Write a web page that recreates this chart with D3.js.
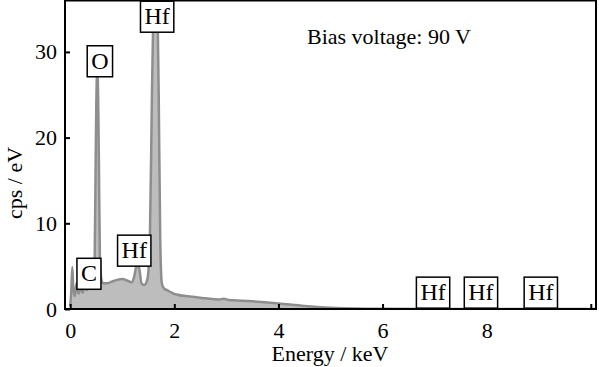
<!DOCTYPE html>
<html>
<head>
<meta charset="utf-8">
<script src="https://cdn.jsdelivr.net/npm/d3@7"></script>
<style>
  html, body { margin: 0; padding: 0; background: #fff; }
  svg { display: block; }
  text { font-family: "Liberation Serif", Tinos, "Times New Roman", Times, "DejaVu Serif", serif; fill: #000; }
</style>
</head>
<body>
<div id="chart"></div>
<script>
// ── Data: EDX spectrum ────────────────────────────────────────
const energy = [0.00, 0.02, 0.04, 0.06, 0.09, 0.12, 0.16, 0.20, 0.24, 0.28,
  0.32, 0.36, 0.40, 0.44, 0.47, 0.49, 0.515, 0.525, 0.55, 0.57,
  0.60, 0.63, 0.70, 0.80, 0.90, 1.00, 1.10, 1.18, 1.23, 1.27,
  1.30, 1.33, 1.37, 1.42, 1.48, 1.53, 1.57, 1.62, 1.66, 1.70,
  1.73, 1.76, 1.80, 1.86, 1.95, 2.00, 2.30, 2.60, 2.85, 2.95,
  3.05, 3.20, 3.50, 4.00, 4.50, 5.00, 5.50, 6.00, 7.00, 8.00,
  9.00, 10.1];
const cps = [0.3, 2.0, 4.9, 2.4, 1.5, 3.0, 1.8, 2.6, 1.9, 2.8,
  2.2, 2.6, 2.4, 3.2, 6.0, 18.0, 27.3, 27.3, 18.0, 6.0,
  3.4, 3.0, 3.0, 3.2, 3.4, 3.5, 3.3, 3.1, 3.8, 5.0,
  5.2, 4.6, 3.0, 2.8, 3.4, 8.0, 25.0, 38.0, 38.0, 25.0,
  8.0, 3.0, 2.4, 2.2, 1.9, 1.75, 1.45, 1.25, 1.1, 1.2,
  1.05, 1.0, 0.9, 0.65, 0.35, 0.15, 0.05, 0.02, 0.0, 0.0,
  0.0, 0.0];

// Element label boxes: centre energy (keV) and box bottom (cps/eV)
const peakLabels = ['Hf', 'O', 'C', 'Hf', 'Hf', 'Hf', 'Hf'];
const labelEnergy = [1.67, 0.57, 0.36, 1.23, 6.97, 7.89, 9.04];
const labelCps = [32.3, 27.1, 2.3, 5.0, 0.1, 0.1, 0.1];

const xTicks = [0, 2, 4, 6, 8, 10];
const yTicks = [0, 10, 20, 30];
const note = 'Bias voltage: 90 V';

// ── Layout ────────────────────────────────────────────────────
const width = 599, height = 367;
const serif = '"Liberation Serif", Tinos, "Times New Roman", Times, "DejaVu Serif", serif';
const x = d3.scaleLinear().domain([-0.1, 10.1]).range([65, 596]);
const y = d3.scaleLinear().domain([0, 36]).range([309, 0.5]);

const svg = d3.select('#chart').append('svg')
  .attr('width', width)
  .attr('height', height)
  .attr('font-family', serif);

svg.append('defs').append('clipPath').attr('id', 'plot-clip')
  .append('rect')
  .attr('x', x.range()[0]).attr('y', y.range()[1])
  .attr('width', x.range()[1] - x.range()[0])
  .attr('height', y.range()[0] - y.range()[1]);

const series = energy.map((e, i) => ({ e, v: cps[i] }));

// ── Spectrum ──────────────────────────────────────────────────
const plot = svg.append('g').attr('clip-path', 'url(#plot-clip)');

plot.append('path')
  .datum(series)
  .attr('fill', '#bdbdbd')
  .attr('d', d3.area().x(d => x(d.e)).y0(y(0)).y1(d => y(d.v)).curve(d3.curveMonotoneX));

plot.append('path')
  .datum(series)
  .attr('fill', 'none')
  .attr('stroke', '#8e8e8e')
  .attr('stroke-width', 2.5)
  .attr('d', d3.line().x(d => x(d.e)).y(d => y(d.v)).curve(d3.curveMonotoneX));

// ── Axes ──────────────────────────────────────────────────────
const fontSize = 22;

const xAxis = svg.append('g')
  .attr('transform', `translate(0,${y(0)})`)
  .call(d3.axisBottom(x).tickValues(xTicks).tickSize(-5).tickPadding(13)
    .tickFormat(d => d === 10 ? '' : d));

const yAxis = svg.append('g')
  .attr('transform', `translate(${x.range()[0]},0)`)
  .call(d3.axisLeft(y).tickValues(yTicks).tickSize(-5).tickPadding(8));

[xAxis, yAxis].forEach(ax => {
  ax.attr('font-family', serif).attr('font-size', fontSize);
  ax.select('.domain').remove();
  ax.selectAll('.tick line').attr('stroke', '#000').attr('stroke-width', 2);
  ax.selectAll('.tick text').attr('fill', '#000');
});

// Frame
svg.append('rect')
  .attr('x', x.range()[0]).attr('y', y.range()[1])
  .attr('width', x.range()[1] - x.range()[0])
  .attr('height', y.range()[0] - y.range()[1])
  .attr('fill', 'none')
  .attr('stroke', '#000')
  .attr('stroke-width', 2);

// Axis titles
svg.append('text')
  .attr('x', 330).attr('y', 361)
  .attr('text-anchor', 'middle')
  .attr('font-size', fontSize)
  .text('Energy / keV');

svg.append('text')
  .attr('transform', 'translate(22,183) rotate(-90)')
  .attr('text-anchor', 'middle')
  .attr('font-size', fontSize)
  .text('cps / eV');

// Note
svg.append('text')
  .attr('x', 307).attr('y', 44)
  .attr('font-size', fontSize)
  .text(note);

// ── Peak label boxes ──────────────────────────────────────────
const boxH = 31, padX = 4;
peakLabels.forEach((label, i) => {
  const g = svg.append('g');
  const t = g.append('text')
    .attr('x', x(labelEnergy[i]))
    .attr('y', y(labelCps[i]) - 8)
    .attr('text-anchor', 'middle')
    .attr('font-size', 24)
    .text(label);
  const w = t.node().getComputedTextLength() + padX * 2;
  g.insert('rect', 'text')
    .attr('x', x(labelEnergy[i]) - w / 2)
    .attr('y', y(labelCps[i]) - boxH)
    .attr('width', w)
    .attr('height', boxH)
    .attr('fill', '#fff')
    .attr('stroke', '#000')
    .attr('stroke-width', 1.5);
});
</script>
</body>
</html>
